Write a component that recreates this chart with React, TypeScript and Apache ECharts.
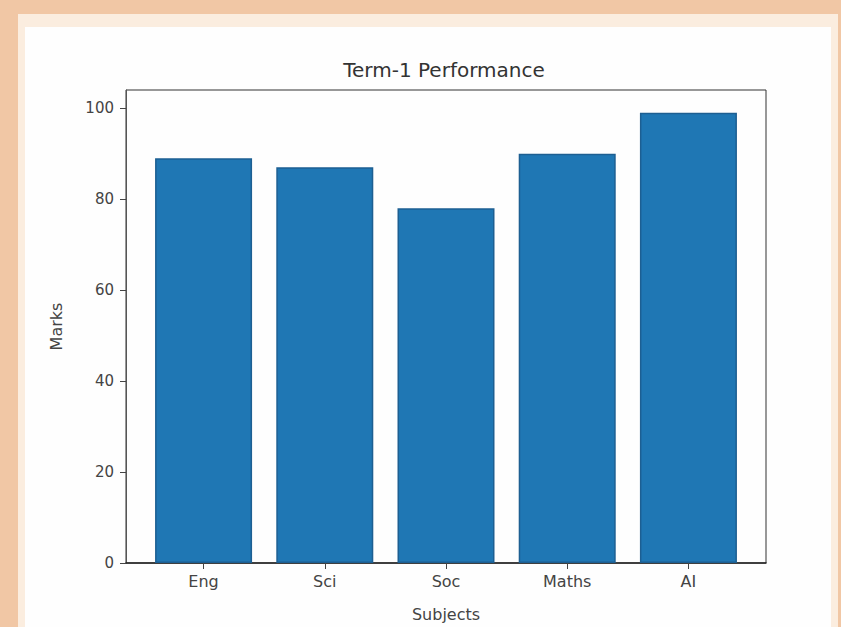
import React, { useEffect, useRef } from "react";
import * as echarts from "echarts";

const subjects = ["Eng", "Sci", "Soc", "Maths", "AI"];
const marks = [89, 87, 78, 90, 99];
const yTicks = [0, 20, 40, 60, 80, 100];

export default function App() {
  const ref = useRef<HTMLDivElement>(null);
  useEffect(() => {
    if (!ref.current) return;
    const chart = echarts.init(ref.current, null, { renderer: "svg" });
    const font = "DejaVu Sans";
    const positions = subjects.map((_, i) => i);
    chart.setOption({
      animation: false,
      backgroundColor: "#f1c7a5",
      textStyle: { fontFamily: font },
      graphic: [
        { type: "rect", z: -10, shape: { x: 18, y: 14, width: 820, height: 620 }, style: { fill: "#fbeddf" } },
        { type: "rect", z: -9, shape: { x: 25, y: 27, width: 806, height: 610 }, style: { fill: "#fefefe" } },
        {
          type: "text",
          x: 444,
          y: 70,
          style: { text: "Term-1 Performance", font: `20px ${font}`, fill: "#333", align: "center", verticalAlign: "middle" },
        },
      ],
      grid: { left: 126, right: 75, top: 90, bottom: 64, show: true, borderColor: "#333", borderWidth: 1, backgroundColor: "transparent" },
      xAxis: {
        type: "value",
        min: -0.64,
        max: 4.64,
        name: "Subjects",
        nameLocation: "middle",
        nameGap: 43,
        nameTextStyle: { fontSize: 16, color: "#444", fontFamily: font },
        splitLine: { show: false },
        axisLine: { show: true, onZero: false, lineStyle: { color: "#222", width: 1.5 } },
        axisTick: { show: true, length: 6, customValues: positions, lineStyle: { color: "#444" } },
        axisLabel: {
          customValues: positions,
          fontSize: 16,
          color: "#444",
          margin: 10,
          formatter: (v: number) => {
            const i = Math.round(v);
            return Math.abs(v - i) < 1e-6 && subjects[i] ? subjects[i] : "";
          },
        },
      },
      yAxis: {
        type: "value",
        min: 0,
        max: 104,
        interval: 20,
        name: "Marks",
        nameLocation: "middle",
        nameGap: 62,
        nameTextStyle: { fontSize: 16, color: "#444", fontFamily: font },
        splitLine: { show: false },
        axisLine: { show: true, onZero: false, lineStyle: { color: "#555" } },
        axisTick: { show: true, length: 6, customValues: yTicks, lineStyle: { color: "#444" } },
        axisLabel: {
          customValues: yTicks,
          fontSize: 15,
          color: "#444",
          margin: 12,
          formatter: (v: number) => (v % 20 === 0 && v <= 100 ? String(v) : ""),
        },
      },
      series: [
        {
          type: "bar",
          barWidth: 97,
          data: marks.map((m, i) => [positions[i], m]),
          itemStyle: { color: "#1f77b4", borderColor: "#1d5f92", borderWidth: 1.5 },
        },
      ],
    });
    return () => chart.dispose();
  }, []);
  return <div ref={ref} style={{ position: "fixed", left: 0, top: 0, width: 841, height: 627 }} />;
}
